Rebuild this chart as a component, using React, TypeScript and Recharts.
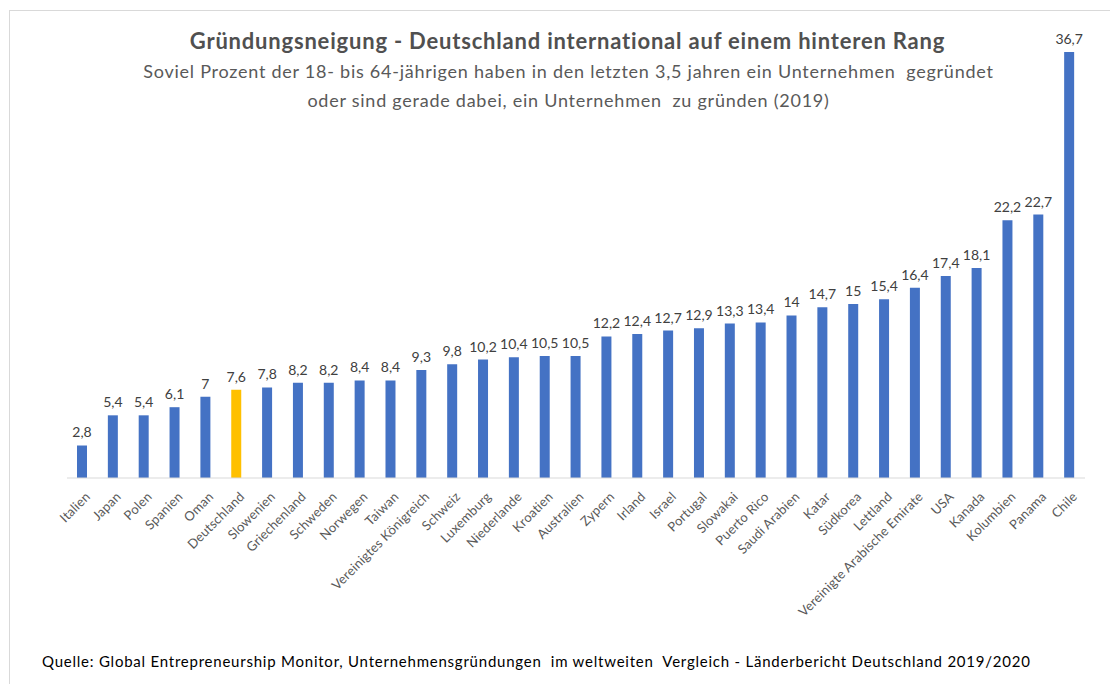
import { Bar, BarChart, Cell, LabelList, XAxis, YAxis } from "recharts";

const countries = [
  "Italien", "Japan", "Polen", "Spanien", "Oman", "Deutschland", "Slowenien",
  "Griechenland", "Schweden", "Norwegen", "Taiwan", "Vereinigtes Königreich",
  "Schweiz", "Luxemburg", "Niederlande", "Kroatien", "Australien", "Zypern",
  "Irland", "Israel", "Portugal", "Slowakai", "Puerto Rico", "Saudi Arabien",
  "Katar", "Südkorea", "Lettland", "Vereinigte Arabische Emirate", "USA",
  "Kanada", "Kolumbien", "Panama", "Chile",
];

const rates = [
  2.8, 5.4, 5.4, 6.1, 7, 7.6, 7.8, 8.2, 8.2, 8.4, 8.4, 9.3, 9.8, 10.2, 10.4,
  10.5, 10.5, 12.2, 12.4, 12.7, 12.9, 13.3, 13.4, 14, 14.7, 15, 15.4, 16.4,
  17.4, 18.1, 22.2, 22.7, 36.7,
];

const highlight = "Deutschland";

const data = countries.map((name, i) => ({ name, value: rates[i] }));

const FONT = "Lato, 'Open Sans', sans-serif";

// rotated category labels, end of the text sits under the bar
function CountryTick(props: any) {
  const { x, y, payload } = props;
  return (
    <g transform={`translate(${x + 5},${y + 8})`}>
      <text
        transform="rotate(-45)"
        textAnchor="end"
        dominantBaseline="central"
        fill="#595959"
        fontSize={13}
        fontFamily={FONT}
        letterSpacing={0.2}
      >
        {payload.value}
      </text>
    </g>
  );
}

export default function App() {
  return (
    <div
      style={{
        position: "absolute",
        left: 0,
        top: 0,
        width: 1110,
        height: 684,
        background: "#fff",
        overflow: "hidden",
        fontFamily: FONT,
      }}
    >
      <div
        style={{
          position: "absolute",
          left: 9,
          top: 10,
          width: 1200,
          height: 800,
          borderTop: "1px solid #d9d9d9",
          borderLeft: "1px solid #d9d9d9",
        }}
      />
      <div
        style={{
          position: "absolute",
          left: 0,
          width: 1135,
          top: 27,
          textAlign: "center",
          fontWeight: 700,
          fontSize: 22,
          letterSpacing: 0.8,
          color: "#505050",
        }}
      >
        Gründungsneigung - Deutschland international auf einem hinteren Rang
      </div>
      <div
        style={{
          position: "absolute",
          left: 0,
          width: 1137,
          top: 57,
          textAlign: "center",
          fontSize: 18,
          letterSpacing: 0.75,
          lineHeight: "29px",
          color: "#595959",
          whiteSpace: "pre",
        }}
      >
        {"Soviel Prozent der 18- bis 64-jährigen haben in den letzten 3,5 jahren ein Unternehmen  gegründet\noder sind gerade dabei, ein Unternehmen  zu gründen (2019)"}
      </div>
      <div
        style={{
          position: "absolute",
          left: 42,
          top: 652,
          fontSize: 15,
          letterSpacing: 0.77,
          color: "#000",
          whiteSpace: "pre",
        }}
      >
        {"Quelle: Global Entrepreneurship Monitor, Unternehmensgründungen  im weltweiten  Vergleich - Länderbericht Deutschland 2019/2020"}
      </div>
      <div style={{ position: "absolute", left: 0, top: 0 }}>
        <BarChart
          width={1110}
          height={684}
          data={data}
          margin={{ top: 52, right: 25, bottom: 6, left: 67 }}
        >
          <YAxis hide domain={[0, "dataMax"]} />
          <XAxis
            dataKey="name"
            interval={0}
            height={200}
            tickLine={false}
            axisLine={{ stroke: "#d9d9d9", strokeWidth: 1 }}
            tick={<CountryTick />}
          />
          <Bar dataKey="value" barSize={10} isAnimationActive={false}>
            {data.map((d) => (
              <Cell key={d.name} fill={d.name === highlight ? "#ffc000" : "#4472c4"} />
            ))}
            <LabelList
              dataKey="value"
              position="top"
              offset={8}
              fill="#404040"
              fontSize={14}
              fontFamily={FONT}
              formatter={(v: any) => String(v).replace(".", ",")}
            />
          </Bar>
        </BarChart>
      </div>
    </div>
  );
}
